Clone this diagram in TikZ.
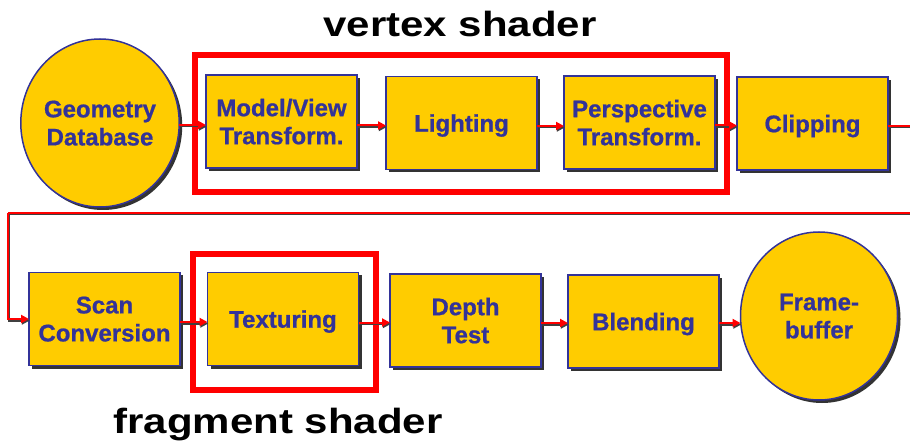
\documentclass[tikz,border=0pt]{standalone}
\usepackage{fontspec}
\usepackage{graphicx}
\setmainfont{Liberation Sans}
\newfontfamily\stagefont{Liberation Sans}[BoldFeatures={FakeBold=0.8}]
\usetikzlibrary{shapes.geometric,arrows.meta,shadows}
\definecolor{boxfill}{HTML}{FFCC00}
\definecolor{boxline}{HTML}{333399}
\definecolor{hotred}{HTML}{FF0000}
\begin{document}
\begin{tikzpicture}[x=1pt,y=-1pt,
  stage/.style={rectangle, draw=boxline, line width=1.5pt, fill=boxfill,
    minimum width=151pt, minimum height=93pt, inner sep=0pt, outer sep=0pt,
    align=center, text=boxline, text depth=-1.5pt,
    font=\stagefont\fontsize{24}{28}\selectfont\bfseries,
    drop shadow={shadow xshift=3pt, shadow yshift=-3pt, fill=black, opacity=0.8}},
  store/.style={stage, ellipse, minimum width=157pt, minimum height=168pt},
  wire/.style={draw=hotred, line width=2pt,
    preaction={draw=black!75, line width=2pt, transform canvas={xshift=0.8pt,yshift=-1.5pt}}},
  flow/.style={draw=hotred, line width=2pt, -{Triangle[length=8pt,width=8pt]},
    preaction={draw=black!75, line width=2pt, -{Triangle[length=8pt,width=8pt]},
      transform canvas={xshift=0.8pt,yshift=-1.5pt}}},
  frame/.style={draw=hotred, line width=6pt, fill=none, inner sep=0pt, outer sep=0pt},
  title/.style={font=\fontsize{35}{40}\selectfont\bfseries, text=black, inner sep=0pt, anchor=base}
]
\useasboundingbox (0,0) rectangle (910,446);

% stages
\node[store] (geo)   at (100,123)   {Geometry\\Database};
\node[stage] (mv)    at (281.5,121.5) {Model/View\\Transform.};
\node[stage] (light) at (461.5,123)  {Lighting};
\node[stage] (persp) at (639.5,122.5) {Perspective\\Transform.};
\node[stage] (clip)  at (812.5,123.5) {Clipping};
\node[stage] (scan)  at (104.5,319)  {Scan\\Conversion};
\node[stage] (tex)   at (283,319)    {Texturing};
\node[stage] (depth) at (465.5,320.5) {Depth\\Test};
\node[stage] (blend) at (643.5,321.5) {Blending};
\node[store] (fb)    at (819,316)    {Frame-\\buffer};

% shader frames
\node[frame, minimum width=532pt, minimum height=137pt] (vsframe) at (461,123.5) {};
\node[frame, minimum width=183pt, minimum height=136pt] (fsframe) at (284.5,322) {};

% titles
\node[title] (vstitle) at (460,37) {\scalebox{1.2}[1]{vertex shader}};
\node[title] (fstitle) at (278,433) {\scalebox{1.2}[1]{fragment shader}};

% connectors
\coordinate (edgeA) at (910,126);
\coordinate (edgeB) at (910,213);
\coordinate (bend) at (8,213);

\draw[flow] ([yshift=-2pt]geo.east) -- ([yshift=-2pt]geo.east -| mv.west);
\draw[flow] ([yshift=-4pt]mv.east) -- ([yshift=-4pt]mv.east -| light.west);
\draw[flow] ([yshift=-3pt]light.east) -- ([yshift=-3pt]light.east -| persp.west);
\draw[flow] ([yshift=-3pt]persp.east) -- ([yshift=-3pt]persp.east -| clip.west);
\draw[wire] (clip.east |- edgeA) -- (edgeA);
\draw[wire] (edgeB) -- (bend);
\draw[flow] (bend) |- (scan.west);
\draw[flow] ([yshift=-3pt]scan.east) -- ([yshift=-3pt]scan.east -| tex.west);
\draw[flow] ([yshift=-3.5pt]tex.east) -- ([yshift=-3.5pt]tex.east -| depth.west);
\draw[flow] ([yshift=-2.5pt]depth.east) -- ([yshift=-2.5pt]depth.east -| blend.west);
\draw[flow] ([yshift=-1.5pt]blend.east) -- ([yshift=-1.5pt]blend.east -| fb.west);
\end{tikzpicture}
\end{document}
